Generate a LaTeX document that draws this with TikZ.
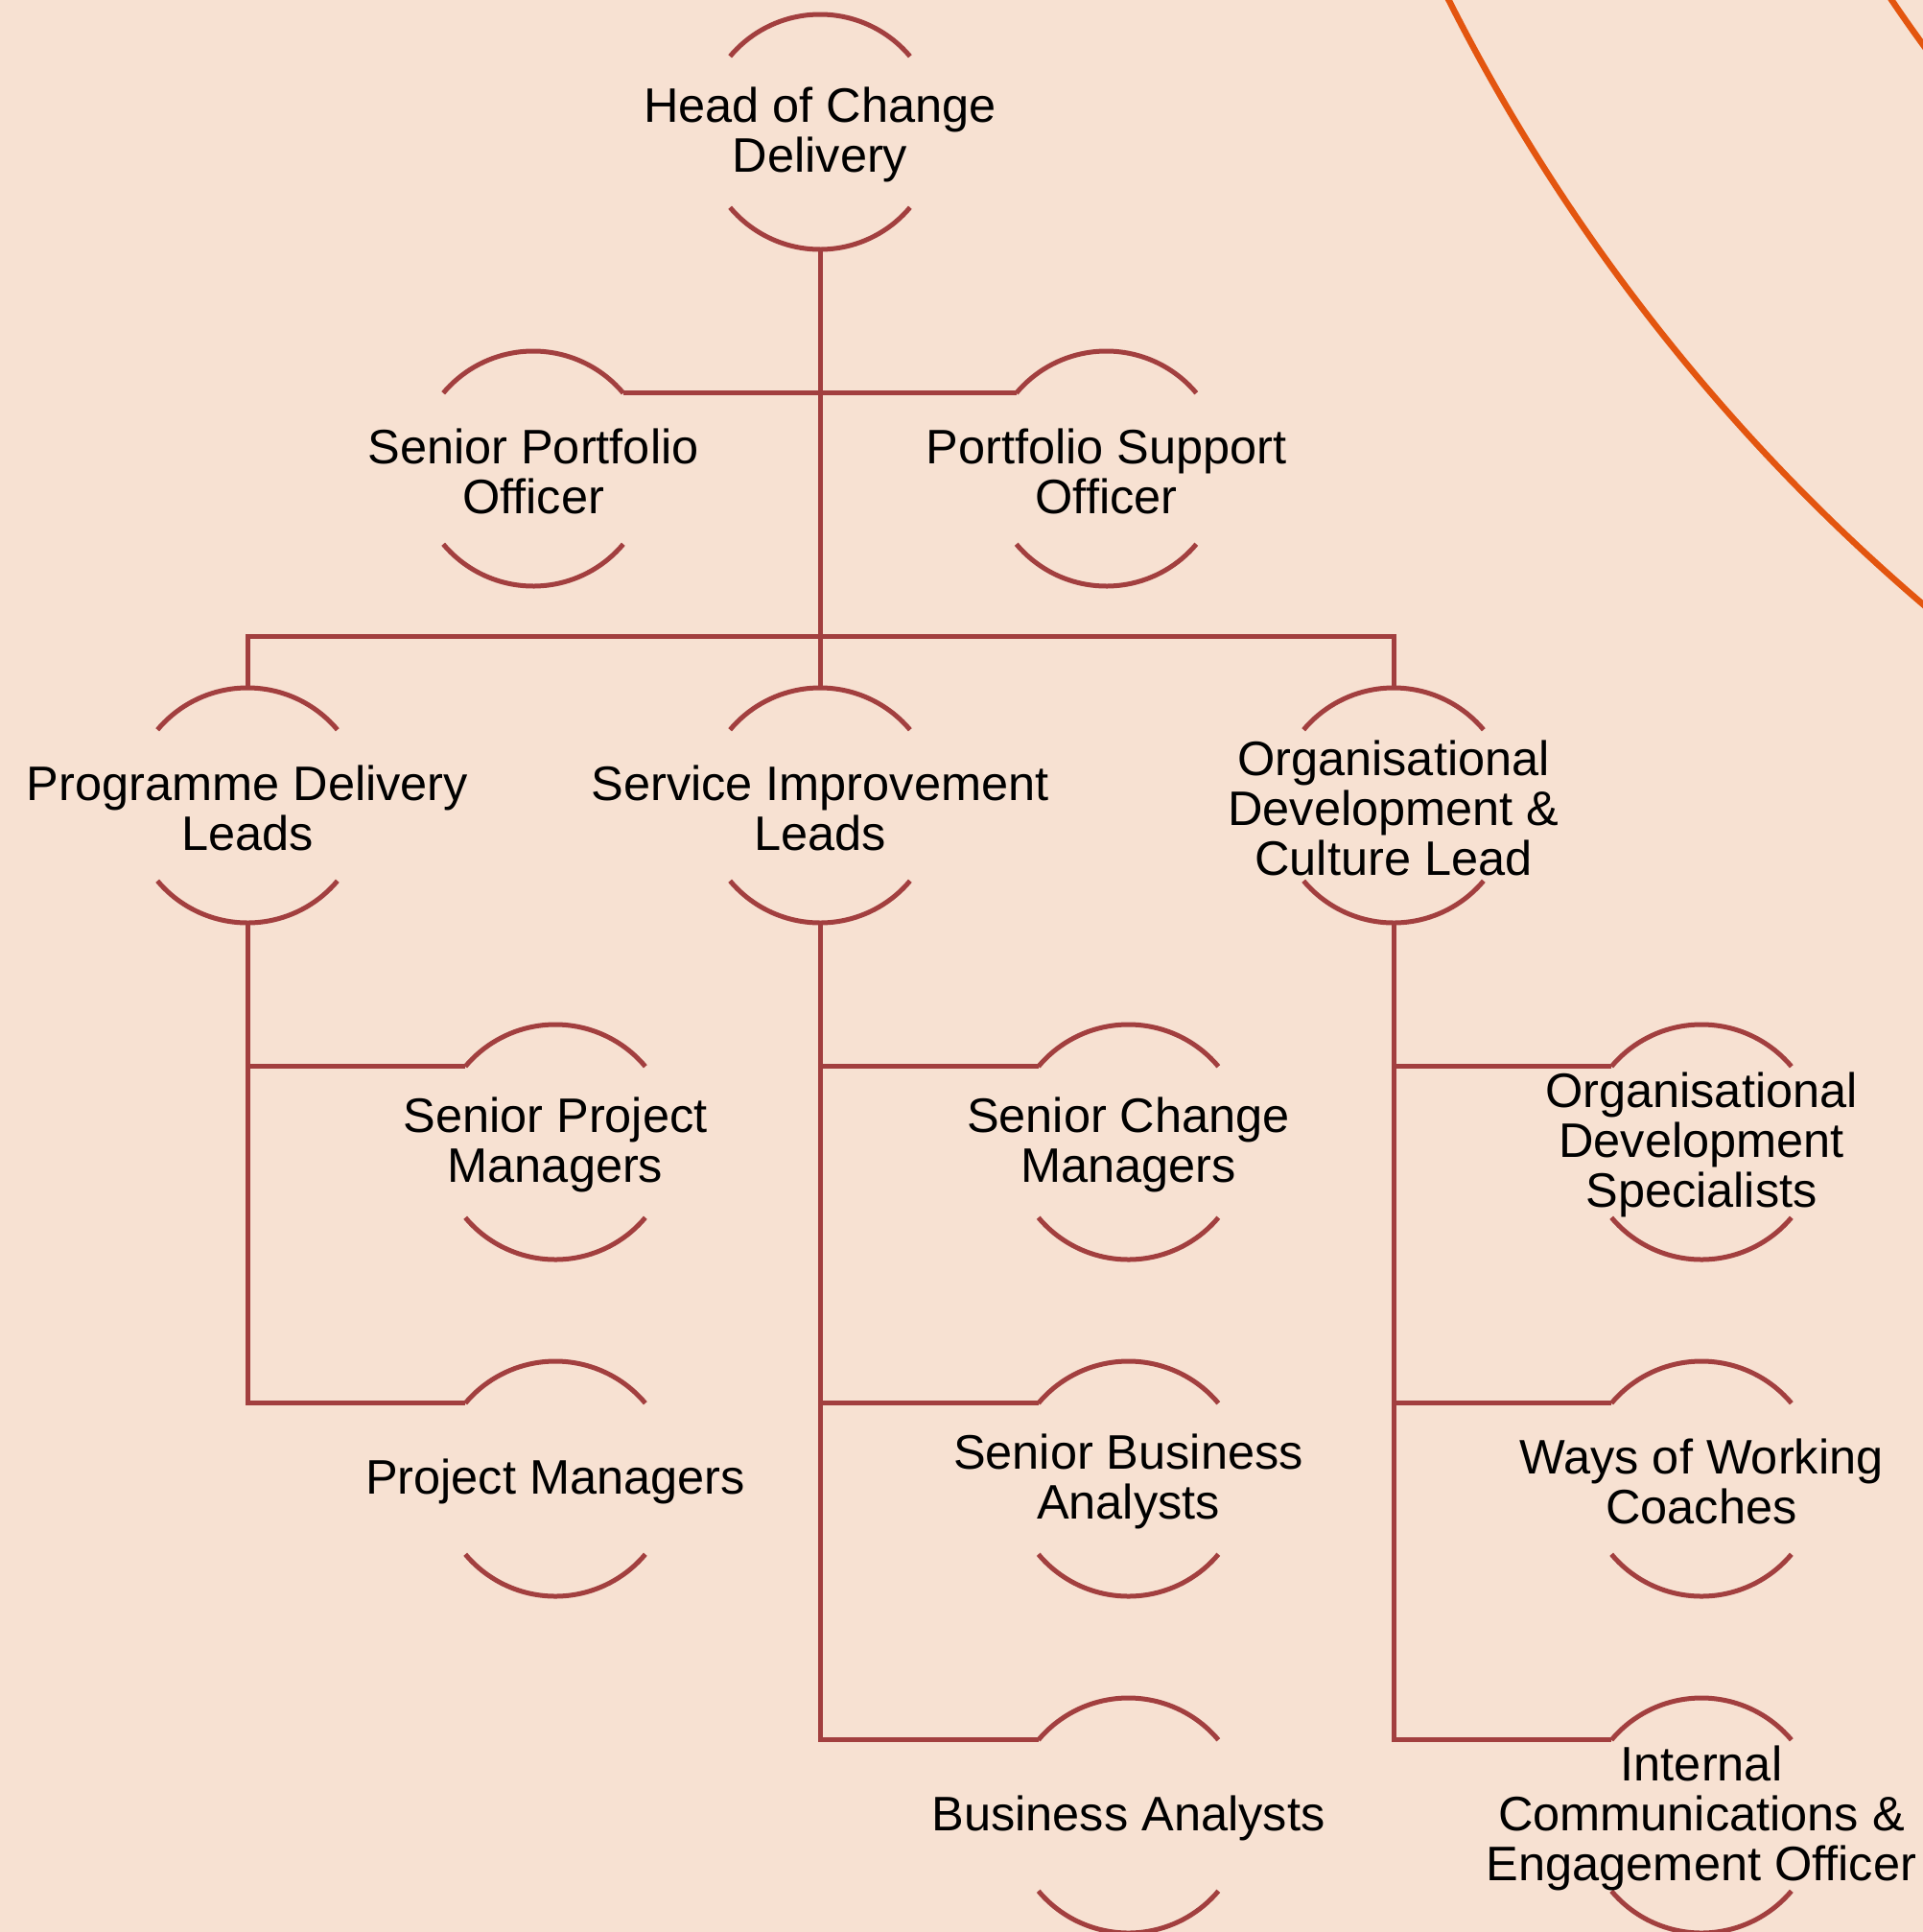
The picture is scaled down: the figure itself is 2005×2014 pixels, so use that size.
\documentclass[tikz,border=0pt]{standalone}
\usepackage{fontspec}
\setmainfont{Liberation Sans}
\definecolor{bgc}{HTML}{F7E1D2}
\definecolor{linec}{HTML}{A23F3F}
\definecolor{orangec}{HTML}{E3550F}
\begin{document}
\begin{tikzpicture}[x=1pt,y=-1pt,
  role/.style={circle,minimum size=245pt,inner sep=0pt,outer sep=0pt,draw=none},
  roletext/.style={align=center,inner sep=0pt,yshift=-2.5pt,font=\fontsize{50.5}{52}\selectfont,text=black},
  arcline/.style={draw=linec,line width=5pt},
  conn/.style={draw=linec,line width=5pt},
  deco/.style={draw=orangec,line width=6.5pt}]
\fill[bgc] (0,0) rectangle (2005,2014);
\useasboundingbox (0,0) rectangle (2005,2014);
\begin{scope}
\clip (0,0) rectangle (2005,2014);
\draw[deco] (3320,-910) circle[radius=2025];
\draw[deco] (3320,-910) circle[radius=1626];
\end{scope}
% nodes
\node[role] (head) at (855,137.5) {};
\node[role] (spo) at (556,488.5) {};
\node[role] (pso) at (1153.5,488.5) {};
\node[role] (pdl) at (258,839.5) {};
\node[role] (sil) at (855,839.5) {};
\node[role] (odc) at (1453,839.5) {};
\node[role] (spm) at (579,1190.5) {};
\node[role] (pm) at (579,1541.5) {};
\node[role] (scm) at (1176.5,1190.5) {};
\node[role] (sba) at (1176.5,1541.5) {};
\node[role] (ba) at (1176.5,1892.5) {};
\node[role] (ods) at (1774,1190.5) {};
\node[role] (wwc) at (1774,1541.5) {};
\node[role] (ice) at (1774,1892.5) {};
\foreach \n in {head,spo,pso,pdl,sil,odc,spm,pm,scm,sba,ba,ods,wwc,ice}{
  \draw[arcline] (\n.40) arc[start angle=40,end angle=140,radius=122.5pt];
  \draw[arcline] (\n.220) arc[start angle=220,end angle=320,radius=122.5pt];
}
% texts
\node[roletext] (headt) at (head) {Head of Change\\Delivery};
\node[roletext] (spot) at (spo) {Senior Portfolio\\Officer};
\node[roletext] (psot) at (pso) {Portfolio Support\\Officer};
\node[roletext] (pdlt) at (pdl) {Programme Delivery\\Leads};
\node[roletext] (silt) at (sil) {Service Improvement\\Leads};
\node[roletext] (odct) at (odc) {Organisational\\Development \&\\Culture Lead};
\node[roletext] (spmt) at (spm) {Senior Project\\Managers};
\node[roletext] (pmt) at (pm) {Project Managers};
\node[roletext] (scmt) at (scm) {Senior Change\\Managers};
\node[roletext] (sbat) at (sba) {Senior Business\\Analysts};
\node[roletext] (bat) at (ba) {Business Analysts};
\node[roletext] (odst) at (ods) {Organisational\\Development\\Specialists};
\node[roletext] (wwct) at (wwc) {Ways of Working\\Coaches};
\node[roletext] (icet) at (ice) {Internal\\Communications \&\\Engagement Officer};
% connectors
\coordinate (bus) at (855,663);
\draw[conn] (head.south) -- (sil.north);
\draw[conn] (spo.40) -- (spo.40 -| head.south);
\draw[conn] (pso.140) -- (pso.140 -| head.south);
\draw[conn] (pdl.north) -- (pdl.north |- bus) -- (odc.north |- bus) -- (odc.north);
\draw[conn] (pdl.south) -- (pdl.south |- pm.140) -- (pm.140);
\draw[conn] (spm.140) -- (spm.140 -| pdl.south);
\draw[conn] (sil.south) -- (sil.south |- ba.140) -- (ba.140);
\draw[conn] (scm.140) -- (scm.140 -| sil.south);
\draw[conn] (sba.140) -- (sba.140 -| sil.south);
\draw[conn] (odc.south) -- (odc.south |- ice.140) -- (ice.140);
\draw[conn] (ods.140) -- (ods.140 -| odc.south);
\draw[conn] (wwc.140) -- (wwc.140 -| odc.south);
\end{tikzpicture}
\end{document}
